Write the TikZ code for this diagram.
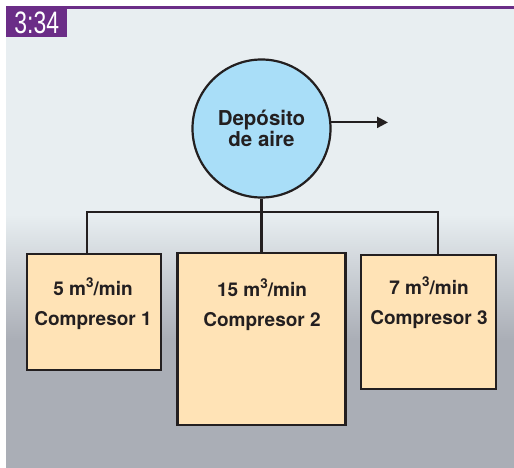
\documentclass[tikz,border=0pt]{standalone}
\usepackage{fontspec}
\setmainfont{TeX Gyre Heros}
\newfontfamily\tagfont[FakeStretch=0.74]{Liberation Sans}
\usetikzlibrary{arrows.meta, positioning, calc}
\definecolor{Ink}{HTML}{231F20}
\definecolor{Plum}{HTML}{6B2D87}
\definecolor{Mist}{HTML}{E8EEF1}
\definecolor{Slate}{HTML}{AAAEB6}
\definecolor{TankBlue}{HTML}{A9DEF8}
\definecolor{Peach}{HTML}{FFE3B6}
\newcommand{\cube}{\raisebox{0.42em}{\fontsize{13.5}{13.5}\selectfont 3}}

\begin{document}
\begin{tikzpicture}[
        x=1pt, y=-1pt,
        tank/.style={draw=Ink, circle, line width=2.2pt, minimum size=138pt, fill=TankBlue, align=center, inner sep=0pt, text=Ink, font=\fontsize{20.5}{21}\selectfont\bfseries},
        unit/.style={draw=Ink, line width=2.4pt, fill=Peach, inner sep=0pt},
        rate/.style={align=center, text=Ink, font=\fontsize{19}{30}\selectfont\bfseries},
        link/.style={line width=2.4pt, draw=Ink},
        arr/.style={-{Triangle[length=11pt, width=11pt]}, line width=2.2pt, color=Ink}
      ]
        \useasboundingbox (0,0) rectangle (514,468);
        % backdrop
        \fill[Mist] (6,9) rectangle (514,215);
        \shade[top color=Mist, bottom color=Slate] (6,214.5) rectangle (514,340.5);
        \fill[Slate] (6,340) rectangle (514,468);
        \fill[Plum] (6,6.5) rectangle (514,9);
        \node[fill=Plum, anchor=north west, minimum width=61pt, minimum height=28pt, inner sep=0pt, text=white, font=\tagfont\fontsize{31}{31}\selectfont] (tag) at (6,9) {3:34};

        \node[tank] (tank) at (261.5,128.5) {Depósito\\de aire};
        \node[unit, minimum width=134pt, minimum height=116pt] (comp1) at (94,312) {};
        \node[unit, minimum width=168pt, minimum height=172pt] (comp2) at (261.5,339) {};
        \node[unit, minimum width=135pt, minimum height=134pt] (comp3) at (428.5,322) {};

        \node[rate] (rate1) at (93,304) {5 m\cube/min\\Compresor 1};
        \node[rate] (rate2) at (262,304.5) {15 m\cube/min\\Compresor 2};
        \node[rate] (rate3) at (429,302.5) {7 m\cube/min\\Compresor 3};

        \coordinate (leftdrop) at (87,212);
        \coordinate (rightdrop) at (438,212);
        \coordinate (out) at (388,122);
        \draw[link] (tank.south) -- (comp2.north);
        \draw[link] (leftdrop |- comp1.north) -- (leftdrop) -- (rightdrop) -- (rightdrop |- comp3.north);
        \draw[arr] (tank.5) -- (tank.5 -| out);
      \end{tikzpicture}
\end{document}
